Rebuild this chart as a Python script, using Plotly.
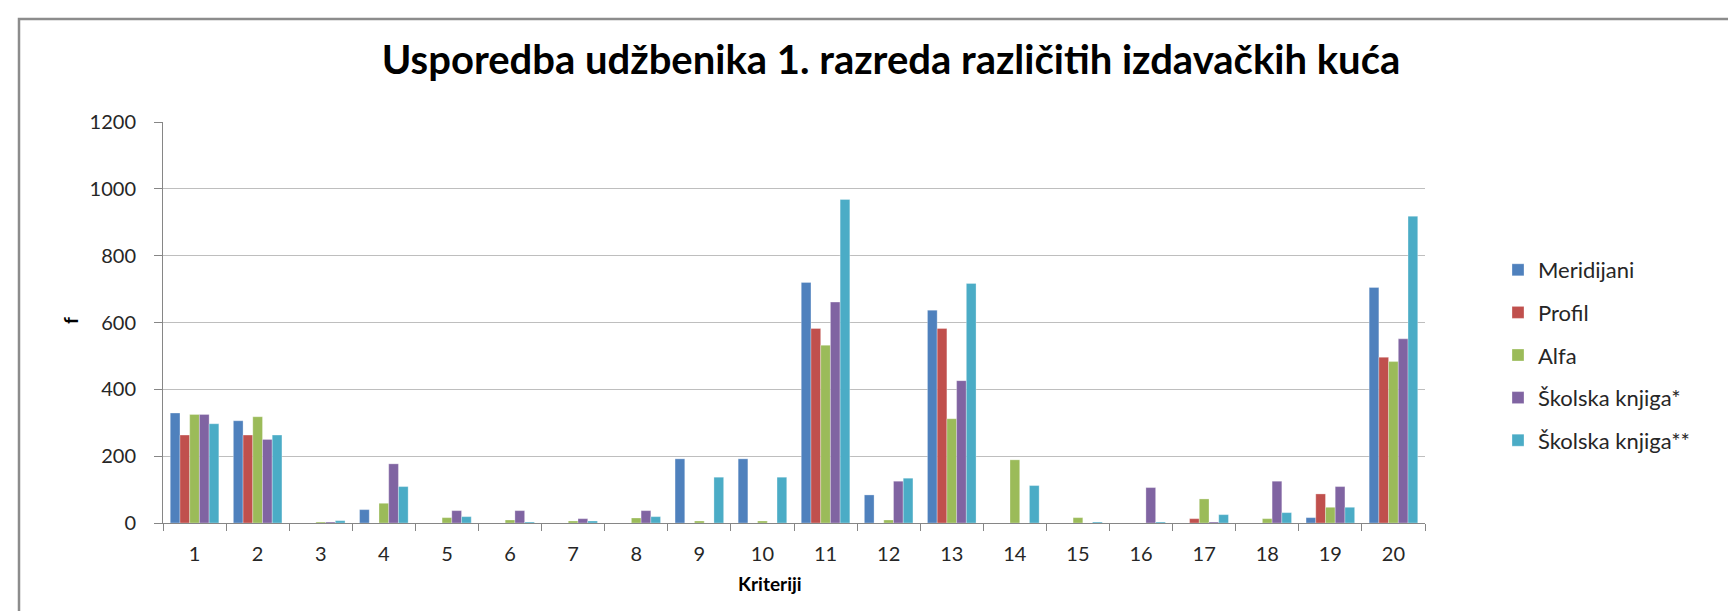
import plotly.graph_objects as go

categories = [str(i) for i in range(1, 21)]
series_names = ["Meridijani", "Profil", "Alfa", "Školska knjiga*", "Školska knjiga**"]
meridijani = [329, 306, 0, 40, 0, 0, 0, 0, 192, 192, 720, 84, 637, 0, 0, 0, 0, 0, 16, 705]
profil = [263, 263, 0, 0, 0, 0, 0, 0, 0, 0, 582, 0, 582, 0, 0, 0, 13, 0, 87, 496]
alfa = [325, 318, 3, 59, 16, 9, 6, 15, 6, 6, 532, 9, 312, 189, 16, 0, 72, 13, 47, 483]
skolska1 = [325, 250, 3, 177, 37, 37, 13, 37, 0, 0, 661, 125, 426, 0, 0, 106, 3, 125, 109, 551]
skolska2 = [297, 263, 7, 109, 19, 3, 6, 19, 137, 137, 968, 134, 717, 112, 3, 3, 25, 31, 47, 918]
colors = ["#4F81BD", "#C0504D", "#9BBB59", "#8064A2", "#4BACC6"]
y_ticks = [0, 200, 400, 600, 800, 1000, 1200]

W, H = 1736, 611
L, R, T, B = 155, 1417, 114, 515

font_family = "Lato, 'Noto Sans', sans-serif"
text_color = "#262626"

fig = go.Figure()
for i, (name, vals) in enumerate(zip(series_names, [meridijani, profil, alfa, skolska1, skolska2])):
    fig.add_trace(go.Bar(
        x=categories, y=vals, name=name,
        marker=dict(color=colors[i], line=dict(width=0.5, color="rgba(255,255,255,0.6)")),
        legendgroup=name,
    ))

def px_x(x):
    return (x - L) / (R - L)

def px_y(y):
    return (B - y) / (B - T)

fig.update_layout(
    width=W, height=H,
    margin=dict(l=L, r=W - R, t=T, b=H - B),
    paper_bgcolor="white", plot_bgcolor="white",
    barmode="group", bargap=0.23, bargroupgap=0,
    font=dict(family=font_family, color=text_color, size=20),
    title=dict(
        text="<b>Usporedba udžbenika 1. razreda različitih izdavačkih kuća</b>",
        x=883 / W, xanchor="center",
        y=1 - 52 / H, yanchor="middle",
        font=dict(size=40, family=font_family, color="#000000"),
    ),
    legend=dict(
        x=px_x(1490), xanchor="left",
        y=px_y(347), yanchor="middle",
        font=dict(size=22, family=font_family, color=text_color),
        traceorder="grouped", tracegroupgap=11,
        bgcolor="rgba(0,0,0,0)",
        itemwidth=30,
    ),
    xaxis=dict(
        type="category", tickson="boundaries", ticks="outside", ticklen=7,
        tickcolor="#868686", tickwidth=1,
        showline=True, linecolor="#868686", linewidth=1,
        showgrid=False, tickfont=dict(size=20),
        ticklabelstandoff=13,
    ),
    yaxis=dict(
        range=[0, 1200], tickvals=y_ticks, ticks="outside", ticklen=8,
        tickcolor="#868686", tickwidth=1,
        showline=True, linecolor="#868686", linewidth=1,
        showgrid=True, gridcolor="#BEBEBE", gridwidth=1.3,
        zeroline=False, tickfont=dict(size=20),
        ticklabelstandoff=14,
    ),
    showlegend=True,
)

fig.add_annotation(
    text="<b>Kriteriji</b>", xref="paper", yref="paper",
    x=px_x(762), y=px_y(575), xanchor="center", yanchor="middle",
    showarrow=False, font=dict(size=19, family=font_family, color="#000000"),
)
fig.add_annotation(
    text="<b>f</b>", xref="paper", yref="paper",
    x=px_x(62), y=px_y(313), xanchor="center", yanchor="middle",
    textangle=-90, showarrow=False,
    font=dict(size=19, family=font_family, color="#000000"),
)

fig.add_shape(
    type="rect", xref="paper", yref="paper",
    x0=px_x(11), y0=px_y(H + 50), x1=px_x(W + 50), y1=px_y(11),
    line=dict(color="#8C8C8C", width=2.5), fillcolor="rgba(0,0,0,0)", layer="above",
)

fig.write_html("out.html")
